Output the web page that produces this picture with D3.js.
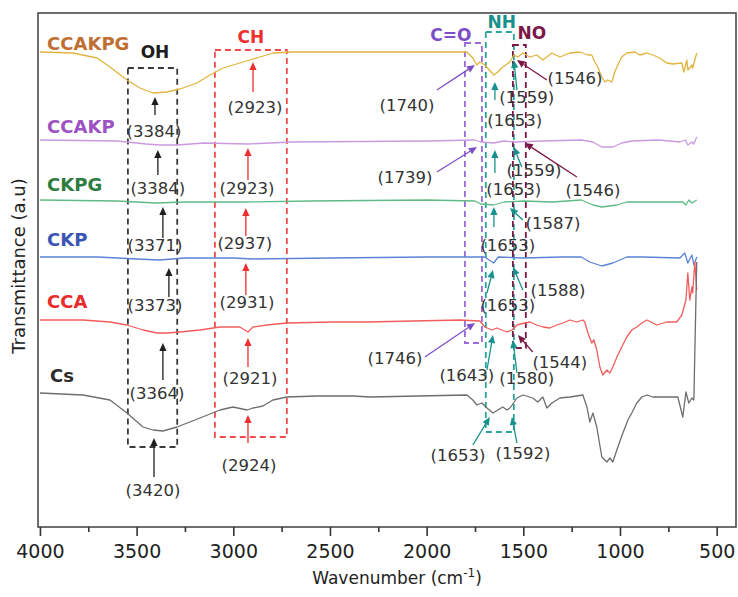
<!DOCTYPE html>
<html>
<head>
<meta charset="utf-8">
<script src="https://cdn.jsdelivr.net/npm/d3@7"></script>
<style>
    body { margin: 0; background: #fff; }
    svg { display: block; font-family: "DejaVu Sans", sans-serif; }
</style>
</head>
<body>
<div id="chart"></div>
<script>

// spectra: [wavenumber cm-1, transmittance a.u. (stacked offsets)]
const ccakpg = [[4000,475],[3829,474],[3705,469],[3638,460],[3550,447],[3483,439],[3415,434],[3343,435],[3276,438],
    [3188,444],[3121,452],[3053,459],[2966,464],[2898,468],[2862,470],[2795,474],[2692,475],[2449,475],[1932,475],
    [1792,475],[1761,469],[1740,462],[1725,465],[1699,462],[1652,452],[1632,455],[1606,460],[1569,465],[1549,472],
    [1528,470],[1502,474],[1466,470],[1430,472],[1399,467],[1352,474],[1311,470],[1259,474],[1208,475],[1166,472],
    [1146,472],[1130,465],[1115,460],[1094,450],[1078,445],[1063,447],[1042,445],[1027,455],[1011,462],[991,470],
    [965,474],[923,475],[898,472],[861,474],[830,472],[794,469],[758,464],[727,463],[680,464],[670,455],[654,467],
    [649,457],[628,462],[624,459],[603,474]];

const ccakp = [[4000,387],[3600,386],[3450,383],[3380,382],[3290,382],[3150,384],[2923,383],[2700,385],[2000,386],
    [1750,387],[1720,385],[1653,384],[1600,386],[1546,385],[1400,386],[1200,387],[1140,385],[1094,380],[1037,380],
    [991,384],[939,386],[800,387],[690,385],[662,387],[649,382],[628,385],[618,383],[603,390]];

const ckpg = [[4000,327],[3600,326],[3400,324],[3250,325],[2950,325],[2600,326],[2000,327],[1750,326],[1720,323],
    [1653,322],[1600,325],[1500,326],[1350,325],[1200,327],[1140,322],[1094,320],[1016,322],[965,325],[800,325],
    [675,325],[659,322],[644,327],[628,324],[603,327]];

const ckp = [[4000,270],[3700,270],[3500,268],[3380,267],[3250,269],[3000,269],[2900,268],[2500,269],[2000,270],
    [1700,270],[1653,264],[1630,270],[1500,269],[1300,270],[1200,270],[1156,265],[1094,261],[1037,264],[965,270],
    [883,270],[690,269],[665,274],[649,264],[628,272],[618,262],[603,270]];

const cca = [[4000,207],[3777,207],[3638,205],[3550,202],[3467,197],[3395,194],[3343,194],[3276,195],[3172,197],
    [3069,200],[2966,200],[2924,195],[2898,200],[2826,202],[2723,204],[2485,205],[2309,205],[1828,207],[1725,206],
    [1699,200],[1663,197],[1637,199],[1611,197],[1585,195],[1559,197],[1533,202],[1492,204],[1466,205],[1430,202],
    [1399,200],[1363,199],[1327,202],[1296,204],[1259,207],[1223,205],[1192,207],[1182,205],[1166,194],[1146,184],
    [1135,187],[1120,177],[1104,160],[1089,152],[1068,157],[1052,154],[1037,160],[1016,170],[991,180],[965,190],
    [939,197],[913,200],[887,204],[861,207],[810,202],[758,205],[706,205],[680,212],[659,227],[649,254],[639,227],
    [628,240],[624,234],[613,265],[603,237]];

const cs = [[4000,134],[3777,132],[3638,127],[3550,114],[3467,100],[3415,97],[3364,96],[3291,100],[3172,109],
    [3069,117],[3002,120],[2929,117],[2898,119],[2847,121],[2795,127],[2723,130],[2567,131],[2381,131],[2293,130],
    [1792,132],[1761,127],[1740,122],[1714,124],[1688,119],[1657,114],[1632,117],[1606,120],[1585,117],[1569,119],
    [1533,129],[1502,132],[1451,129],[1425,125],[1399,130],[1378,119],[1352,124],[1311,129],[1259,130],[1192,132],
    [1171,120],[1156,105],[1140,114],[1120,100],[1094,70],[1068,65],[1052,69],[1037,65],[1011,80],[985,94],
    [959,107],[939,114],[913,124],[887,130],[861,132],[830,130],[758,130],[701,130],[675,110],[659,135],[644,124],
    [628,129],[618,127],[608,220],[603,265]];

const seriesNames = ["CCAKPG", "CCAKP", "CKPG", "CKP", "CCA", "Cs"];
const seriesData = [ccakpg, ccakp, ckpg, ckp, cca, cs];

const majorTicks = [4000, 3500, 3000, 2500, 2000, 1500, 1000, 500];
const minorTicks = [3750, 3250, 2750, 2250, 1750, 1250, 750];

// band groups: name, box wavenumber range, box transmittance range
const groupNames = ["OH", "CH", "C=O", "NH", "NO"];
const groupBoxWn = [[3545, 3290], [3095, 2723], [1802, 1714], [1694, 1549], [1554, 1487]];
const groupBoxT = [[459, 80], [477, 90], [484, 184], [495, 95], [482, 179]];

// peak annotations: text, group, tip [wn, T], tail [wn, T], label [wn, T]
const peaks = [
    ["(3384)", "OH", [3405, 430], [3405, 412], [3410, 396]],
    ["(3384)", "OH", [3390, 377], [3390, 352], [3390, 339]],
    ["(3371)", "OH", [3364, 320], [3364, 289], [3405, 282]],
    ["(3373)", "OH", [3333, 259], [3333, 230], [3405, 222]],
    ["(3364)", "OH", [3364, 184], [3364, 147], [3395, 134]],
    ["(3420)", "OH", [3410, 89], [3410, 50], [3415, 37]],
    ["(2923)", "CH", [2898, 465], [2898, 435], [2888, 420]],
    ["(2923)", "CH", [2924, 379], [2924, 347], [2929, 339]],
    ["(2937)", "CH", [2935, 319], [2935, 291], [2940, 284]],
    ["(2931)", "CH", [2935, 264], [2935, 232], [2929, 225]],
    ["(2921)", "CH", [2924, 189], [2924, 160], [2914, 149]],
    ["(2924)", "CH", [2924, 112], [2924, 84], [2919, 62]],
    ["(1740)", "C=O", [1750, 462], [1947, 437], [2102, 422]],
    ["(1739)", "C=O", [1740, 380], [1947, 355], [2112, 350]],
    ["(1746)", "C=O", [1750, 204], [2009, 170], [2164, 169]],
    ["(1653)", "NH", [1647, 445], [1647, 427], [1544, 407]],
    ["(1559)", "NH", [1549, 467], [1533, 437], [1482, 430]],
    ["(1653)", "NH", [1647, 377], [1647, 354], [1550, 338]],
    ["(1559)", "NH", [1549, 380], [1508, 360], [1445, 357]],
    ["(1653)", "NH", [1652, 320], [1652, 300], [1580, 282]],
    ["(1587)", "NH", [1569, 319], [1502, 307], [1347, 304]],
    ["(1653)", "NH", [1657, 257], [1688, 234], [1580, 222]],
    ["(1588)", "NH", [1554, 260], [1502, 237], [1321, 237]],
    ["(1643)", "NH", [1657, 192], [1688, 157], [1792, 152]],
    ["(1580)", "NH", [1554, 187], [1533, 154], [1482, 149]],
    ["(1653)", "NH", [1673, 110], [1761, 82], [1838, 72]],
    ["(1592)", "NH", [1559, 110], [1533, 84], [1502, 74]],
    ["(1546)", "NO", [1533, 467], [1378, 447], [1233, 449]],
    ["(1546)", "NO", [1492, 384], [1223, 350], [1140, 337]],
    ["(1544)", "NO", [1528, 192], [1451, 175], [1311, 165]]
];

// styling
const lineColors = ["#e2b43e", "#c99ae0", "#5fbb85", "#5a82d6", "#f25c5c", "#6e6e6e"];
const nameColors = ["#bf6f32", "#9c52c2", "#2c7d3f", "#3b55b5", "#ea2b2b", "#2b2b2b"];
const nameAt = [[3963, 483], [3963, 400], [3963, 342], [3963, 287], [3963, 225], [3948, 151]];
const groupColors = { "OH": "#1e1e1e", "CH": "#ee3030", "C=O": "#7c4fc6", "NH": "#16918b", "NO": "#7b1846" };
const boxColors = { "OH": "#3a3a3a", "CH": "#f24a4a", "C=O": "#9a6ad8", "NH": "#2ba39a", "NO": "#7b1846" };
const titleAt = { "OH": [3405, 475], "CH": [2909, 490], "C=O": [1875, 492], "NH": [1611, 505], "NO": [1456, 494] };

var width = 738, height = 597, svg, x, y;

function init() {
    svg = d3.select("#chart").append("svg")
        .attr("width", width)
        .attr("height", height);

    x = d3.scaleLinear().domain([4010, 400]).range([38, 736]);
    y = d3.scaleLinear().domain([0, 514]).range([527, 13]);

    drawAxes();
    drawBoxes();
    drawSpectra();
    drawPeaks();
}

function drawAxes() {
    svg.append("rect")   // plot frame
        .attr("x", 38).attr("y", 13)
        .attr("width", 698).attr("height", 514)
        .attr("fill", "none")
        .attr("stroke", "#4a4a4a")
        .attr("stroke-width", 1.6);

    let gx = svg.append("g")
        .attr("transform", "translate(0,527)")
        .call(d3.axisBottom(x).tickValues(majorTicks).tickSize(9).tickPadding(9).tickFormat(d3.format("d")));
    gx.select(".domain").remove();
    gx.selectAll("line").attr("stroke", "#333").attr("stroke-width", 1.6);
    gx.selectAll("text")
        .attr("font-family", "DejaVu Sans")
        .attr("font-size", 19)
        .attr("fill", "#222");

    let gm = svg.append("g")
        .attr("transform", "translate(0,527)")
        .call(d3.axisBottom(x).tickValues(minorTicks).tickSize(5).tickFormat(""));
    gm.select(".domain").remove();
    gm.selectAll("line").attr("stroke", "#333").attr("stroke-width", 1.6);

    let xt = svg.append("text")
        .attr("x", 397).attr("y", 584)
        .attr("text-anchor", "middle")
        .attr("font-size", 17)
        .attr("fill", "#222");
    xt.append("tspan").text("Wavenumber (cm");
    xt.append("tspan").attr("dy", -7).attr("font-size", 12).text("-1");
    xt.append("tspan").attr("dy", 7).text(")");

    svg.append("text")
        .attr("transform", "translate(25,266) rotate(-90)")
        .attr("text-anchor", "middle")
        .attr("font-size", 18)
        .attr("fill", "#222")
        .text("Transmittance (a.u)");
}

function drawBoxes() {
    groupNames.forEach(function (g, i) {
        let wn = groupBoxWn[i], t = groupBoxT[i];
        svg.append("rect")
            .attr("x", x(wn[0]))
            .attr("y", y(t[0]))
            .attr("width", x(wn[1]) - x(wn[0]))
            .attr("height", y(t[1]) - y(t[0]))
            .attr("fill", "none")
            .attr("stroke", boxColors[g])
            .attr("stroke-width", 1.8)
            .attr("stroke-dasharray", "6,4");

        svg.append("text")
            .attr("x", x(titleAt[g][0]))
            .attr("y", y(titleAt[g][1]))
            .attr("dy", "0.36em")
            .attr("text-anchor", "middle")
            .attr("font-weight", "bold")
            .attr("font-size", 17)
            .attr("fill", groupColors[g])
            .text(g);
    });
}

function drawSpectra() {
    let line = d3.line()
        .x(d => x(d[0]))
        .y(d => y(d[1]));

    svg.selectAll(".spectrum")
        .data(seriesData)
        .join("path")
        .attr("class", "spectrum")
        .attr("d", line)
        .attr("fill", "none")
        .attr("stroke", (d, i) => lineColors[i])
        .attr("stroke-width", 1.3)
        .attr("stroke-linejoin", "round");

    svg.selectAll(".sname")
        .data(seriesNames)
        .join("text")
        .attr("class", "sname")
        .attr("x", (d, i) => x(nameAt[i][0]))
        .attr("y", (d, i) => y(nameAt[i][1]))
        .attr("dy", "0.36em")
        .attr("font-weight", "bold")
        .attr("font-size", 18)
        .attr("fill", (d, i) => nameColors[i])
        .text(d => d);
}

function drawPeaks() {
    let head = 8, half = 3.6;

    peaks.forEach(function (p) {
        let col = groupColors[p[1]];
        let tx = x(p[2][0]), ty = y(p[2][1]);
        let sx = x(p[3][0]), sy = y(p[3][1]);
        let a = Math.atan2(ty - sy, tx - sx);
        let bx = tx - head * Math.cos(a), by = ty - head * Math.sin(a);

        svg.append("line")
            .attr("x1", sx).attr("y1", sy)
            .attr("x2", bx).attr("y2", by)
            .attr("stroke", col)
            .attr("stroke-width", 1.3);

        svg.append("path")   // arrow head
            .attr("d", "M" + tx + "," + ty +
                "L" + (bx + half * Math.sin(a)) + "," + (by - half * Math.cos(a)) +
                "L" + (bx - half * Math.sin(a)) + "," + (by + half * Math.cos(a)) + "Z")
            .attr("fill", col);

        svg.append("text")
            .attr("x", x(p[4][0]))
            .attr("y", y(p[4][1]))
            .attr("dy", "0.36em")
            .attr("text-anchor", "middle")
            .attr("font-size", 16.5)
            .attr("fill", "#333")
            .text(p[0]);
    });
}

window.onload = init;
</script>
</body>
</html>
